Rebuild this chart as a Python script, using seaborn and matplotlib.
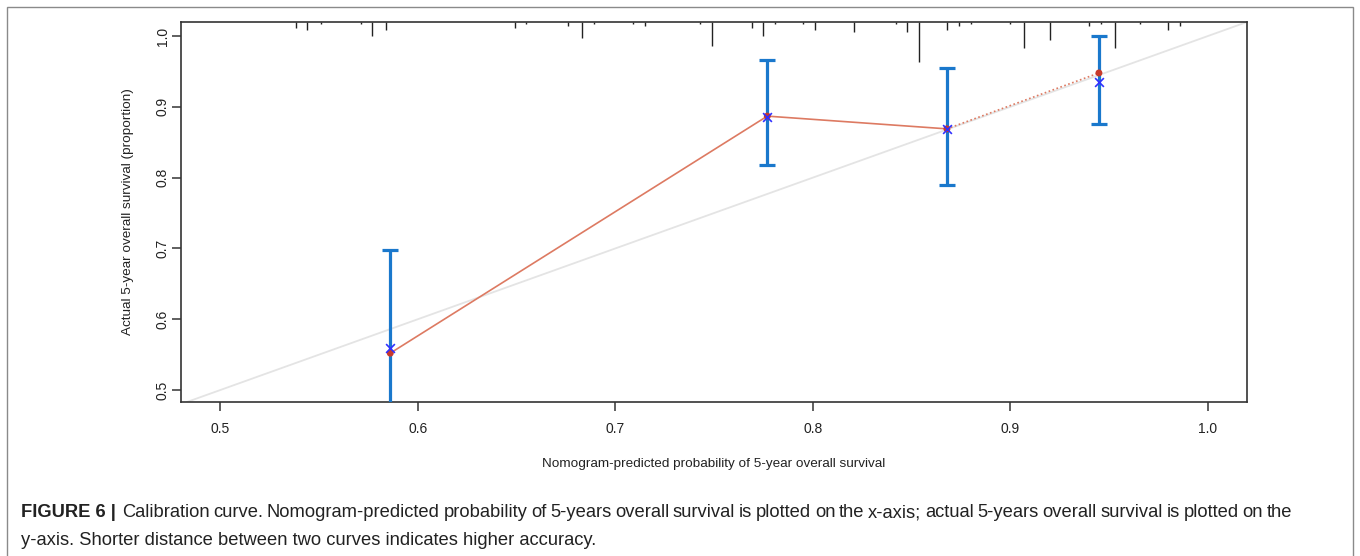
import numpy as np
import pandas as pd
import matplotlib
matplotlib.use('Agg')
import matplotlib.pyplot as plt
import seaborn as sns
from matplotlib.patches import Rectangle

# calibration points (predicted vs observed)
predicted = [0.586, 0.777, 0.868, 0.945]
observed = [0.552, 0.887, 0.869, 0.948]
corrected = [0.559, 0.886, 0.869, 0.935]
ci_low = [0.42, 0.818, 0.790, 0.876]
ci_high = [0.698, 0.966, 0.955, 1.000]

# rug of predicted probabilities along the top (value, count)
rug_x = [0.538, 0.544, 0.551, 0.571, 0.577, 0.584, 0.649, 0.655, 0.676, 0.683,
         0.689, 0.709, 0.715, 0.743, 0.749, 0.769, 0.775, 0.781, 0.795, 0.801,
         0.821, 0.842, 0.848, 0.854, 0.868, 0.874, 0.880, 0.900, 0.907, 0.920,
         0.940, 0.946, 0.953, 0.966, 0.980, 0.986]
rug_n = [3, 4, 1, 1, 7, 4, 3, 1, 2, 8,
         1, 1, 2, 1, 12, 3, 7, 1, 1, 4,
         5, 1, 5, 20, 4, 2, 1, 1, 13, 9,
         2, 1, 13, 1, 4, 2]

x_ticks = [0.5, 0.6, 0.7, 0.8, 0.9, 1.0]
y_ticks = [0.5, 0.6, 0.7, 0.8, 0.9, 1.0]

caption_head = 'FIGURE 6 |'
caption_1 = ('Calibration curve. Nomogram-predicted probability of 5-years overall '
             'survival is plotted on the x-axis; actual 5-years overall survival '
             'is plotted on the')
caption_2 = 'y-axis. Shorter distance between two curves indicates higher accuracy.'

sns.set_style('ticks')
plt.rcParams['font.family'] = ['Liberation Sans', 'DejaVu Sans']

fig = plt.figure(figsize=(13.6, 5.56), dpi=100)
ax = fig.add_axes([0.1331, 0.2770, 0.7838, 0.6834])
ax.set_xlim(0.48, 1.02)
ax.set_ylim(0.483, 1.02)

# ideal line
ax.axline((0.5, 0.5), slope=1, color='#e4e4e4', lw=1.3, zorder=1)

df = pd.DataFrame({'pred': predicted, 'obs': observed, 'corr': corrected})
sns.lineplot(data=df.iloc[:3], x='pred', y='obs', color='#dd7a62', lw=1.2,
             ax=ax, zorder=2)
sns.lineplot(data=df.iloc[2:], x='pred', y='obs', color='#dd7a62', lw=1.2,
             linestyle=(0, (1, 1.5)), ax=ax, zorder=2)

# error bars
lo = np.array(corrected) - np.array(ci_low)
hi = np.array(ci_high) - np.array(corrected)
ax.errorbar(predicted, corrected, yerr=[lo, hi], fmt='none', ecolor='#1a78cc',
            elinewidth=2.3, capsize=6, capthick=2.3, zorder=3)

sns.scatterplot(data=df, x='pred', y='obs', color='#c8392b', s=25,
                edgecolor='none', ax=ax, zorder=4)
sns.scatterplot(data=df, x='pred', y='corr', marker='x', color='#3030ff',
                s=40, linewidth=1.2, ax=ax, zorder=5)

# top rug (frequency of predictions)
ytop = 1.02
unit = 2.0 / 708.0
ax.vlines(rug_x, ytop - np.array(rug_n) * unit, ytop, color='#222222', lw=1.0,
          zorder=2)

for s in ax.spines.values():
    s.set_color('#333333')
    s.set_linewidth(1.2)
ax.set_xticks(x_ticks)
ax.set_yticks(y_ticks)
ax.set_xticklabels([f'{v:.1f}' for v in x_ticks])
ax.set_yticklabels([f'{v:.1f}' for v in y_ticks], rotation=90, va='center')
ax.tick_params(axis='both', length=6.5, width=1.2, color='#444444',
               labelsize=10, labelcolor='#222222')
ax.tick_params(axis='x', pad=8)
ax.tick_params(axis='y', pad=1.5)
ax.set_xlabel('Nomogram-predicted probability of 5-year overall survival',
              fontsize=9.7, labelpad=16, color='#222222')
ax.set_ylabel('Actual 5-year overall survival (proportion)',
              fontsize=9.7, labelpad=16, color='#222222')

# caption: bold head, justified first line, ragged second line
W, H = 1360, 556
fs = 13.2
r = fig.canvas.get_renderer()
y1 = 1 - 517 / H
y2 = 1 - 545 / H
head = fig.text(21 / W, y1, caption_head, fontsize=fs, fontweight='bold',
                color='#222222')
words = caption_1.split()
arts = [fig.text(0, y1, w, fontsize=fs, color='#222222') for w in words]
widths = [a.get_window_extent(r).width for a in arts]
x0 = head.get_window_extent(r).x1 + 6
x1 = 1292
gap = (x1 - x0 - sum(widths)) / (len(words) - 1)
x = x0
for a, w in zip(arts, widths):
    a.set_x(x / W)
    x += w + gap
fig.text(21 / W, y2, caption_2, fontsize=fs, color='#222222')

# outer frame of figure panel
fig.patches.append(Rectangle((7 / W, -0.05), 1346 / W, 1.05 - 7 / H,
                             transform=fig.transFigure, fill=False,
                             edgecolor='#8a8a8a', lw=1.0))

fig.savefig('out.png', dpi=100)
